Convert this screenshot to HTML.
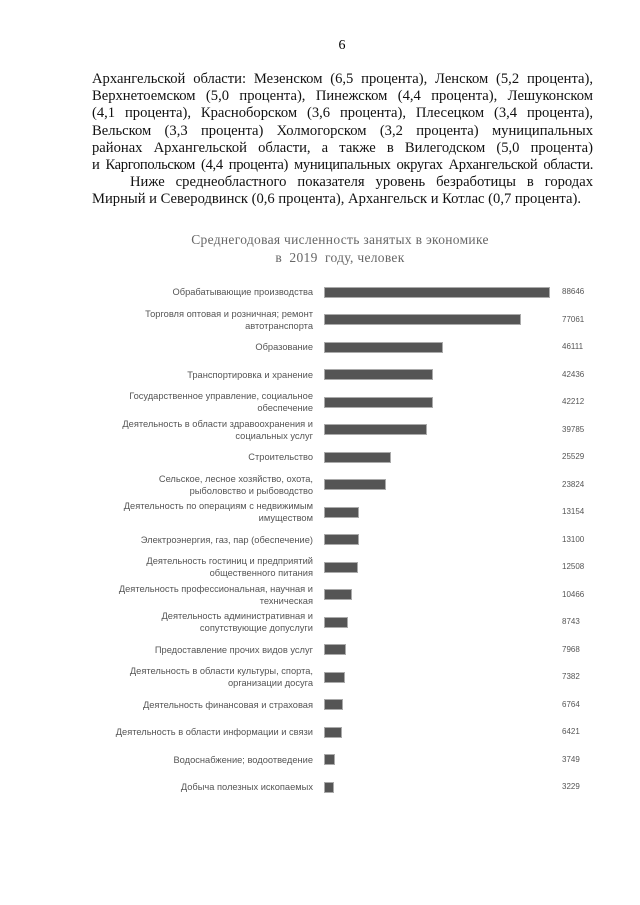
<!DOCTYPE html>
<html><head><meta charset="utf-8"><style>
body{margin:0;width:640px;height:905px;background:#fff;position:relative;overflow:hidden;font-family:"Liberation Serif",serif}
.ln{position:absolute;left:92px;width:501px;font-size:14.6px;line-height:17px;color:#111;text-align:justify;text-align-last:justify;white-space:nowrap;overflow:visible}
.l{position:absolute;right:327px;font-family:"Liberation Sans",sans-serif;font-size:9.3px;color:#555;text-align:right;line-height:12px;white-space:nowrap}
.b{position:absolute;left:325px;height:9px;background:#555;outline:1px solid #aaa}
.v{position:absolute;left:562px;font-family:"Liberation Sans",sans-serif;font-size:8px;color:#555}
.t{position:absolute;left:0;width:680px;text-align:center;font-size:13.5px;color:#666;letter-spacing:0.3px}
</style></head><body>
<div style="position:absolute;left:0;width:684px;top:38px;text-align:center;font-size:14px">6</div>
<div id="p"></div>
<div class="t" style="top:232px">Среднегодовая численность занятых в экономике</div>
<div class="t" style="top:250px">в &nbsp;2019 &nbsp;году, человек</div>
<div id="c"></div>
<script>
var L=["Архангельской области: Мезенском (6,5 процента), Ленском (5,2 процента),","Верхнетоемском (5,0 процента), Пинежском (4,4 процента), Лешуконском","(4,1 процента), Красноборском (3,6 процента), Плесецком (3,4 процента),","Вельском (3,3 процента) Холмогорском (3,2 процента) муниципальных","районах Архангельской области, а также в Вилегодском (5,0 процента)","и Каргопольском (4,4 процента) муниципальных округах Архангельской области.","Ниже среднеобластного показателя уровень безработицы в городах","Мирный и Северодвинск (0,6 процента), Архангельск и Котлас (0,7 процента)."];
var ph="";L.forEach(function(s,i){var st='top:'+(71+i*17.2)+'px;';if(i==6)st+='left:130px;width:463px;';if(i==7)st+='text-align-last:left;';if(i==5)st+='letter-spacing:-0.35px;';ph+='<div class="ln" style="'+st+'">'+s+'</div>';});
document.getElementById("p").innerHTML=ph;
var d=[["Обрабатывающие производства",88646],["Торговля оптовая и розничная; ремонт<br>автотранспорта",77061],["Образование",46111],["Транспортировка и хранение",42436],["Государственное управление, социальное<br>обеспечение",42212],["Деятельность в области здравоохранения и<br>социальных услуг",39785],["Строительство",25529],["Сельское, лесное хозяйство, охота,<br>рыболовство и рыбоводство",23824],["Деятельность по операциям с недвижимым<br>имуществом",13154],["Электроэнергия, газ, пар (обеспечение)",13100],["Деятельность гостиниц и предприятий<br>общественного питания",12508],["Деятельность профессиональная, научная и<br>техническая",10466],["Деятельность административная и<br>сопутствующие допуслуги",8743],["Предоставление прочих видов услуг",7968],["Деятельность в области культуры, спорта,<br>организации досуга",7382],["Деятельность финансовая и страховая",6764],["Деятельность в области информации и связи",6421],["Водоснабжение; водоотведение",3749],["Добыча полезных ископаемых",3229]];
var h="";
d.forEach(function(r,i){var y=292+i*27.5;var two=r[0].indexOf("<br>")>=0;
h+='<div class="l" style="top:'+(y-(two?12:6))+'px">'+r[0]+'</div>';
h+='<div class="b" style="top:'+(y-4.5)+'px;width:'+(r[1]*224/88646)+'px"></div>';
h+='<div class="v" style="top:'+(y-5)+'px">'+r[1]+'</div>';});
document.getElementById("c").innerHTML=h;
</script>
</body></html>
